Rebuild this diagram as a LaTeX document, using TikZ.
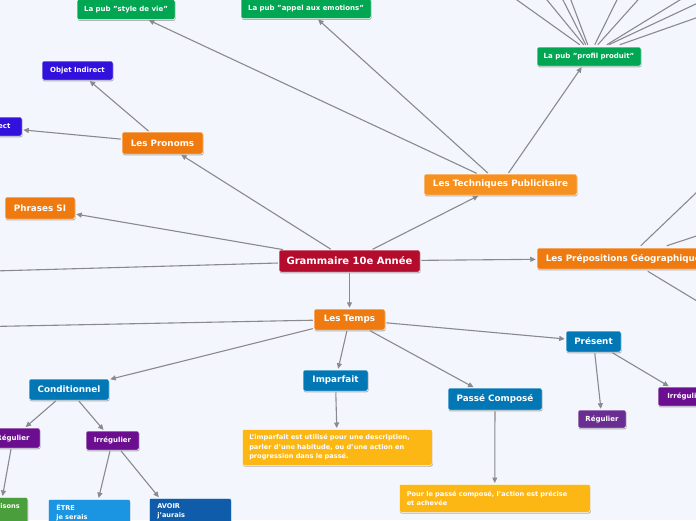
\documentclass[tikz,border=0pt]{standalone}
\usepackage{fontspec}
\setmainfont{DejaVu Sans}
\usetikzlibrary{arrows.meta,shadows,calc}
\definecolor{bgc}{HTML}{F3F6FD}
\definecolor{redc}{HTML}{B30C2C}
\definecolor{orangec}{HTML}{EE7A10}
\definecolor{orangel}{HTML}{F6901E}
\definecolor{greenc}{HTML}{00A651}
\definecolor{indigoc}{HTML}{3311DD}
\definecolor{bluec}{HTML}{0277B6}
\definecolor{purplec}{HTML}{6B0E8F}
\definecolor{purplel}{HTML}{6A2D91}
\definecolor{yellowc}{HTML}{FDB714}
\definecolor{lbluec}{HTML}{1B95E2}
\definecolor{dbluec}{HTML}{0E5CAA}
\definecolor{green2c}{HTML}{4A9F3C}
\definecolor{linec}{HTML}{8A8A8E}
\begin{document}
\begin{tikzpicture}[x=1pt,y=-1pt,
  box/.style={rounded corners=2pt, text=white, inner sep=0pt, align=center,
    draw=white, line width=0.5pt,
    drop shadow={shadow xshift=0.5pt, shadow yshift=-1.3pt, opacity=0.28, fill=black}},
  big/.style={box, font=\bfseries\fontsize{8.8}{10}\selectfont},
  small/.style={box, font=\bfseries\fontsize{7}{8}\selectfont},
  tiny/.style={box, font=\bfseries\fontsize{6.6}{9.6}\selectfont, align=left},
  conn/.style={draw=linec, line width=1.1pt, -{Triangle[length=5.5pt,width=5pt]}, shorten >=1pt, shorten <=1pt},
  plain/.style={draw=linec, line width=1.1pt}
]
\clip (0,0) rectangle (696,520);
\fill[bgc] (0,0) rectangle (696,520);

% main nodes
\node[big, fill=redc, minimum width=141pt, minimum height=22pt, font=\bfseries\fontsize{10}{12}\selectfont] (gram) at (349.5,261) {Grammaire 10e Année};
\node[big, fill=orangel, minimum width=153pt, minimum height=21pt] (tech) at (500.5,184.5) {Les Techniques Publicitaire};
\node[big, fill=orangec, minimum width=81pt, minimum height=22pt] (pron) at (162.5,143) {Les Pronoms};
\node[big, fill=orangec, minimum width=70pt, minimum height=22pt] (phr) at (40,208) {Phrases SI};
\node[big, fill=orangec, minimum width=178pt, minimum height=21pt] (prep) at (626,258.5) {Les Prépositions Géographiques};
\node[big, fill=orangec, minimum width=71pt, minimum height=21pt] (temps) at (349.5,319.5) {Les Temps};

\node[small, fill=indigoc, minimum width=71pt, minimum height=19pt] (objind) at (77.5,70.5) {Objet Indirect};
\node[small, fill=indigoc, minimum width=71pt, minimum height=19pt] (objdir) at (-13.5,126.5) {Objet Direct};

\node[small, fill=greenc, minimum width=98pt, minimum height=20pt] (style) at (126,9.5) {La pub "style de vie"};
\node[small, fill=greenc, minimum width=130pt, minimum height=20pt] (appel) at (306,8.5) {La pub "appel aux emotions"};
\node[small, fill=greenc, minimum width=104pt, minimum height=19pt] (profil) at (589,56.5) {La pub "profil produit"};

\node[big, fill=bluec, minimum width=80pt, minimum height=21pt] (cond) at (69,389.5) {Conditionnel};
\node[big, fill=bluec, minimum width=65pt, minimum height=21pt] (impf) at (335.5,380.5) {Imparfait};
\node[big, fill=bluec, minimum width=94pt, minimum height=22pt] (passe) at (495,399) {Passé Composé};
\node[big, fill=bluec, minimum width=55pt, minimum height=21pt] (pres) at (593.5,341.5) {Présent};

\node[small, fill=purplel, minimum width=48pt, minimum height=18pt] (regp) at (602,419) {Régulier};
\node[small, fill=purplec, minimum width=56pt, minimum height=19pt] (irrp) at (686,396.5) {Irrégulier};
\node[small, fill=purplec, minimum width=54pt, minimum height=20pt] (regc) at (13,438) {Régulier};
\node[small, fill=purplec, minimum width=53pt, minimum height=19pt] (irrc) at (112.5,440.5) {Irrégulier};

\node[tiny, fill=green2c, anchor=north east, inner xsep=8pt, inner ysep=6pt, text depth=62pt] (term) at (28,497) {Terminaisons};
\node[tiny, fill=lbluec, anchor=north west, minimum width=82pt, inner xsep=8pt, inner ysep=5pt, text width=66pt, text depth=60pt] (etre) at (48,499) {ÊTRE\\je serais};
\node[tiny, fill=dbluec, anchor=north west, minimum width=82pt, inner xsep=8pt, inner ysep=5pt, text width=66pt, text depth=60pt] (avoir) at (149,498) {AVOIR\\j'aurais};

\node[tiny, fill=yellowc, anchor=north west, minimum width=190pt, minimum height=36pt, text width=176pt] (yimp) at (242,429) {L'imparfait est utilisé pour une description,\\parler d'une habitude, ou d'une action en\\progression dans le passé.};
\node[tiny, fill=yellowc, anchor=north west, minimum width=191pt, minimum height=28pt, text width=176pt] (ypc) at (399,484) {Pour le passé composé, l'action est précise\\et achevée};

% off-picture ends
\coordinate (offa) at (-60,272.5);
\coordinate (offb) at (-60,327.5);
\coordinate (pa) at (489,-20);
\coordinate (pb) at (530.6,-20);
\coordinate (pc) at (552.8,-20);
\coordinate (pd) at (563.4,-20);
\coordinate (pe) at (626.8,-20);
\coordinate (pf) at (655.8,-20);
\coordinate (pg) at (712.4,-20);
\coordinate (ph) at (730,-12);
\coordinate (pi) at (730,6);
\coordinate (ga) at (720,170);
\coordinate (gb) at (730,225);
\coordinate (gc) at (730,321);

% connectors
\draw[conn] (gram) -- (tech);
\draw[conn] (gram) -- (pron);
\draw[conn] (gram) -- (phr);
\draw[conn] (gram) -- (prep);
\draw[conn] (gram) -- (temps);
\draw[plain, shorten <=1pt] (gram) -- (offa);
\draw[conn] (pron) -- (objind);
\draw[conn] (pron) -- (objdir);
\draw[conn] (tech) -- (style);
\draw[conn] (tech) -- (appel);
\draw[conn] (tech) -- (profil);
\draw[conn] (temps) -- (cond);
\draw[conn] (temps) -- (impf);
\draw[conn] (temps) -- (passe);
\draw[conn] (temps) -- (pres);
\draw[plain, shorten <=1pt] (temps) -- (offb);
\draw[conn] (pres) -- (regp);
\draw[conn] (pres) -- (irrp);
\draw[conn] (cond) -- (regc);
\draw[conn] (cond) -- (irrc);
\draw[conn] (regc) -- (term);
\draw[conn] (irrc) -- (etre);
\draw[conn] (irrc) -- (avoir);
\draw[conn] (impf) -- (yimp);
\draw[conn] (passe) -- (ypc);

\foreach \xs/\c in {43/pa,47/pb,49/pc,51/pd,58/pe,61/pf,70/pg,72/ph,83/pi}
  \draw[plain] ([xshift=\xs pt, yshift=2pt]profil.north west) -- (\c);
\draw[plain] ([xshift=104pt, yshift=2pt]prep.north west) -- (ga);
\draw[plain] ([xshift=130pt, yshift=2pt]prep.north west) -- (gb);
\draw[plain] ([xshift=111pt, yshift=-2pt]prep.south west) -- (gc);
\end{tikzpicture}
\end{document}
